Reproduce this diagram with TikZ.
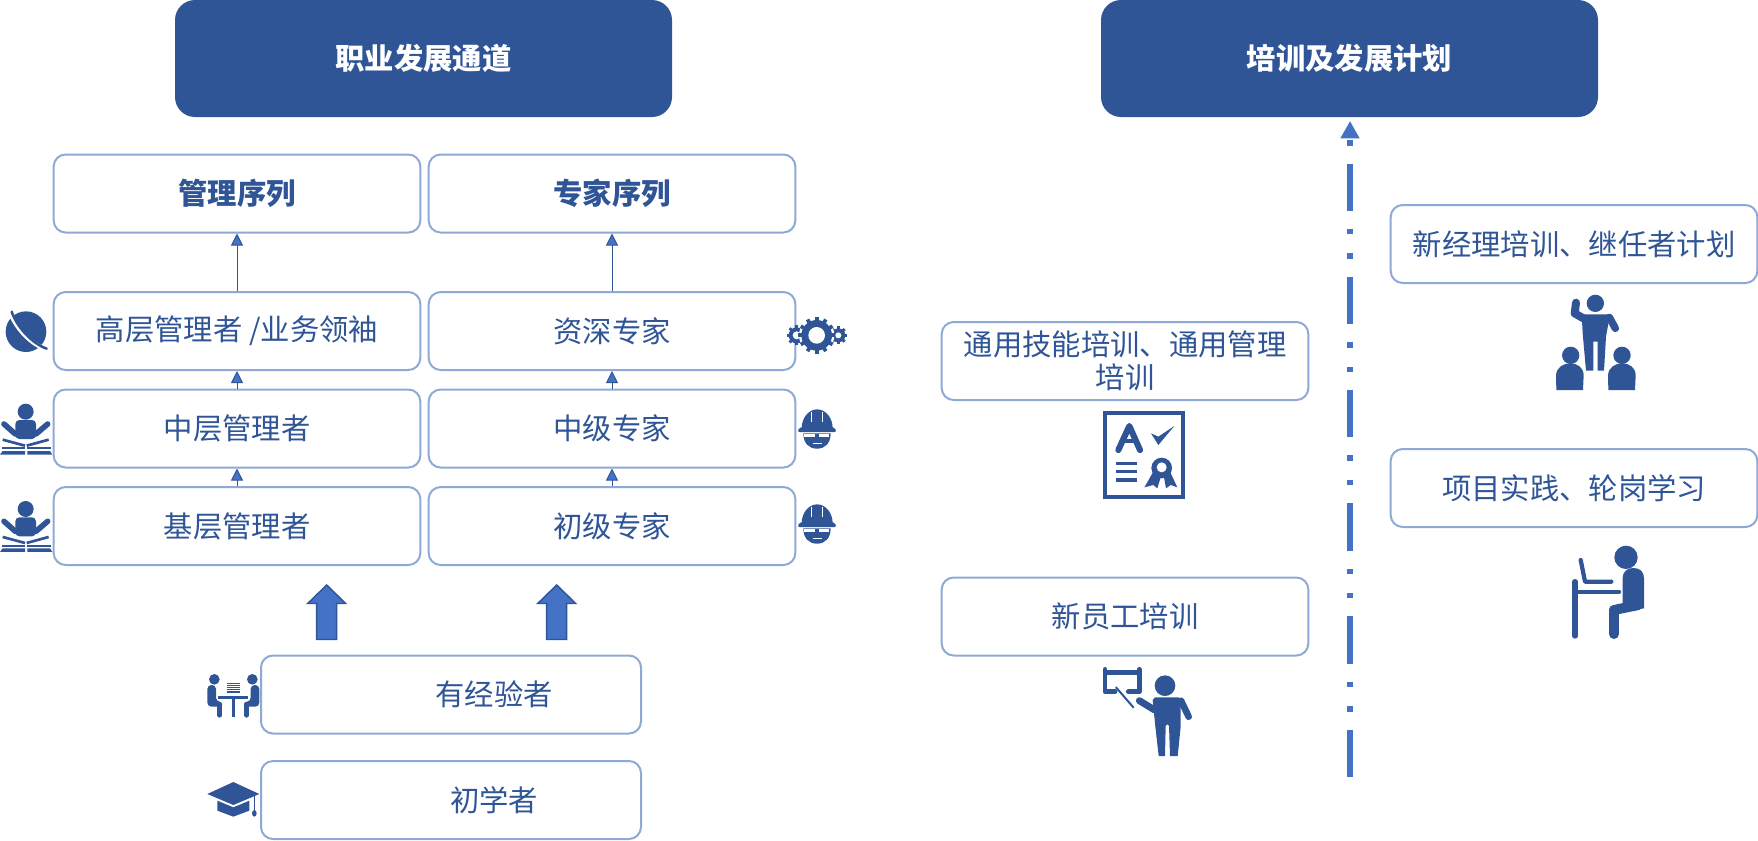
\documentclass[tikz,border=0pt]{standalone}
\usepackage{fontspec}
\setmainfont{Noto Sans CJK SC}
\usetikzlibrary{arrows.meta}
\definecolor{navy}{HTML}{2F5597}
\definecolor{midblue}{HTML}{4472C4}
\definecolor{edgeblue}{HTML}{8FA9D6}
\tikzset{
  card/.style={draw=edgeblue,line width=1.5pt,rounded corners=9pt,fill=white,inner sep=0pt,
    minimum width=275pt,minimum height=58.5pt,text=navy,align=center,
    font=\fontsize{22}{25}\selectfont},
  widecard/.style={card,minimum width=285pt},
  titlecard/.style={fill=navy,rounded corners=15pt,inner sep=0pt,minimum width=372.75pt,
    minimum height=87.75pt,text=white,font=\fontsize{22}{25}\selectfont\bfseries},
  stepup/.style={draw=navy,line width=.75pt,-{Triangle[length=9pt,width=9pt,fill=midblue]}},
  bigup/.style={fill=midblue,draw=navy,line width=1.1pt},
  icon/.style={scale=1/3},
  stroke/.style={draw=navy,line cap=round,line join=round},
  medit/.pic={
    \fill[navy] (77,395) circle[radius=24];
    \fill[navy,rounded corners=3pt] (46,477)--(46,420)--(108,420)--(108,477)--cycle;
    \draw[stroke,line width=4.2pt] (12,432)--(46,462);
    \draw[stroke,line width=4.2pt] (143,432)--(108,462);
    \draw[navy,line width=2pt] (8,479)--(75,497);
    \draw[navy,line width=2pt] (146,479)--(80,497);
    \draw[navy,line width=1.4pt] (5,505)--(75,505);
    \draw[navy,line width=1.4pt] (82,505)--(153,505);
    \fill[navy] (8,513)--(75,513)--(75,524)--(0,524)--cycle;
    \fill[navy] (82,513)--(150,513)--(157,524)--(82,524)--cycle;
  },
  helmet/.pic={
    \fill[navy] (1145,445) arc[start angle=180,end angle=360,x radius=46.5,y radius=57] --cycle;
    \draw[white,line width=.7pt] (1174,395)--(1174,425);
    \draw[white,line width=.7pt] (1208,395)--(1208,425);
    \fill[navy,rounded corners=2pt] (1131,456)--(1140,441)--(1242,441)--(1251,456)--cycle;
    \fill[navy] (1150,460)--(1232,460) .. controls (1232,490) and (1215,506) .. (1191,506) .. controls (1167,506) and (1150,490) .. (1150,460)--cycle;
    \fill[white] (1153,462) rectangle (1184,470);
    \fill[white] (1197,462) rectangle (1228,470);
    \draw[white,line width=.6pt] (1178,490)--(1205,490);
  },
}
\begin{document}
\begin{tikzpicture}[x=.75pt,y=-.75pt]
\useasboundingbox (0,0) rectangle (1758,840);
% headers
\node[titlecard] (careerhead) at (423.5,58.5) {职业发展通道};
\node[titlecard] (trainhead) at (1349.5,58.5) {培训及发展计划};
% career columns
\node[card,font=\fontsize{22}{25}\selectfont\bfseries] (mgmt) at (237,193.5) {管理序列};
\node[card,font=\fontsize{22}{25}\selectfont\bfseries] (expert) at (612,193.5) {专家序列};
\node[card] (m3) at (237,331) {高层管理者 /业务领袖};
\node[card] (e3) at (612,331) {资深专家};
\node[card] (m2) at (237,428.5) {中层管理者};
\node[card] (e2) at (612,428.5) {中级专家};
\node[card] (m1) at (237,526) {基层管理者};
\node[card] (e1) at (612,526) {初级专家};
\node[widecard] (exp) at (451,694.5) {\hspace*{64.5pt}有经验者};
\node[widecard] (novice) at (451,800) {\hspace*{64.5pt}初学者};
\draw[stepup] (m3.north) -- (mgmt.south);
\draw[stepup] (e3.north) -- (expert.south);
\draw[stepup] (m2.north) -- (m3.south);
\draw[stepup] (e2.north) -- (e3.south);
\draw[stepup] (m1.north) -- (m2.south);
\draw[stepup] (e1.north) -- (e2.south);
% block arrows
\draw[bigup] (326.7,585)--(345.7,603.5)--(336.7,603.5)--(336.7,639.5)--(316.7,639.5)--(316.7,603.5)--(307.7,603.5)--cycle;
\draw[bigup] (556.7,585)--(575.7,603.5)--(566.7,603.5)--(566.7,639.5)--(546.7,639.5)--(546.7,603.5)--(537.7,603.5)--cycle;
% training boxes
\node[card] (general) at (1125,361) {通用技能培训、通用管理\\培训};
\node[card] (newhire) at (1125,616.5) {新员工培训};
\node[card] (manager) at (1574,244) {新经理培训、继任者计划};
\node[card] (project) at (1574,488) {项目实践、轮岗学习};
% timeline
\coordinate (tlstart) at (1350,777);
\coordinate (tlend) at (1350,121);
\draw[midblue,line width=4.5pt,dash pattern=on 35.5pt off 13.5pt on 4.1pt off 14.2pt on 4.1pt off 13.5pt,
  -{Triangle[length=13pt,width=13.5pt]}] (tlstart) -- (tlend);
% planet
\begin{scope}[shift={(0,280)},icon]
  \fill[navy] (78,155) circle[radius=61];
  \draw[white,line width=3.2pt] (28,92) .. controls (45,140) and (90,195) .. (146,210);
  \draw[navy,line width=1.9pt,line cap=round] (35,95) .. controls (50,140) and (95,190) .. (140,206);
\end{scope}
% meditating people
\pic[icon] at (0,280) {medit};
\pic[icon] at (0,377.3) {medit};
% helmets
\pic[icon] at (420,280) {helmet};
\pic[icon] at (420,375) {helmet};
% gears
\begin{scope}[shift={(420,280)},icon]
  \foreach \cx/\cy/\r in {1130/166/24,1255/166/21}{
    \fill[navy] (\cx,\cy) circle[radius=\r];
    \foreach \a in {0,45,...,315}
      \draw[navy,line width=2.2pt] (\cx,\cy) ++(\a:\r-2) -- ++(\a:8);
    \fill[white] (\cx,\cy) circle[radius=\r-12];
  }
  \fill[white] (1190,166) circle[radius=53];
  \fill[navy] (1190,166) circle[radius=46];
  \foreach \a in {0,30,...,330}
    \draw[navy,line width=2.8pt] (1190,166) ++(\a:42) -- ++(\a:13);
  \fill[white] (1190,166) circle[radius=25];
\end{scope}
% meeting
\begin{scope}[shift={(190,570)},icon]
  \fill[navy] (73,328) circle[radius=16];
  \fill[navy] (187,328) circle[radius=16];
  \draw[navy,line width=2pt] (85,382)--(175,382);
  \draw[navy,line width=2pt] (130,382)--(130,442);
  \foreach \y in {339,345,351,357,363,368}
    \draw[navy,line width=.45pt] (110,\y)--(149,\y);
  \fill[navy,rounded corners=3pt] (52,410)--(52,345)--(78,345)--(78,395)--(96,395)--(96,410)--cycle;
  \draw[stroke,line width=3.4pt] (88,402)--(88,436);
  \fill[navy,rounded corners=3pt] (208,410)--(208,345)--(182,345)--(182,395)--(164,395)--(164,410)--cycle;
  \draw[stroke,line width=3.4pt] (170,402)--(170,436);
\end{scope}
% graduation cap
\begin{scope}[shift={(190,570)},icon]
  \fill[navy] (52,672)--(130,636)--(208,672)--(130,705)--cycle;
  \fill[navy] (82,692)--(130,712)--(178,692)--(178,722)--(130,740)--(82,722)--cycle;
  \draw[navy,line width=.7pt] (193,678)--(193,722);
  \fill[navy] (193,730) ellipse[x radius=7,y radius=10];
\end{scope}
% certificate
\begin{scope}[shift={(1040,390)},icon]
  \draw[navy,line width=2.4pt] (195,69) rectangle (429,321);
  \draw[stroke,line width=4.6pt] (235,180)--(268,108)--(300,180);
  \draw[navy,line width=3pt] (250,152)--(285,152);
  \fill[navy] (333,130)--(355,140)--(403,108)--(355,165)--cycle;
  \foreach \y in {220,245,270}
    \draw[navy,line width=2.6pt] (228,\y)--(292,\y);
  \fill[navy] (340,245)--(313,292)--(340,285)--(352,295)--(362,262)--(372,262)--(378,295)--(392,285)--(412,292)--(390,245)--cycle;
  \fill[navy] (365,234) circle[radius=31];
  \fill[white] (365,232) circle[radius=15];
\end{scope}
% teacher
\begin{scope}[shift={(1080,650)},icon]
  \draw[navy,line width=3.6pt,line cap=round,line join=round] (105,125)--(75,125)--(75,58);
  \draw[navy,line width=3.6pt,line cap=round,line join=round] (145,125)--(178,125)--(178,58);
  \draw[navy,line width=3.6pt] (75,68)--(178,68);
  \draw[stroke,line width=1.5pt] (108,112)--(160,172);
  \fill[navy] (255,107) circle[radius=31];
  \fill[navy] (225,142)--(295,142)--(302,150)--(302,230)--(293,318)--(270,318)--(267,228)
    arc[start angle=0,end angle=-180,radius=5]--(255,318)--(236,318)--(226,230)--(218,150)--cycle;
  \draw[stroke,line width=5.2pt] (178,152)--(224,180);
  \draw[stroke,line width=5pt] (303,152)--(326,200);
\end{scope}
% presenter
\begin{scope}[shift={(1530,280)},icon]
  \fill[navy] (196,70) circle[radius=26];
  \fill[navy] (155,103)--(240,103)--(228,170)--(222,272)--(203,272)--(203,185)--(190,185)--(190,272)--(168,272)--(158,160)--cycle;
  \draw[stroke,line width=6pt] (138,68)--(134,100)--(160,115);
  \draw[stroke,line width=5.6pt] (238,112)--(256,145);
  \fill[navy] (122,226) circle[radius=26];
  \fill[navy] (276,226) circle[radius=26];
  \fill[navy] (79,330)--(78,285) .. controls (80,262) and (100,250) .. (120,250) .. controls (142,250) and (160,262) .. (161,285)--(159,330)--cycle;
  \fill[navy] (235,330)--(234,285) .. controls (236,262) and (256,250) .. (276,250) .. controls (298,250) and (316,262) .. (317,285)--(315,330)--cycle;
\end{scope}
% seated person
\begin{scope}[shift={(1550,530)},icon]
  \fill[navy] (228,82) circle[radius=35];
  \fill[navy] (218,245)--(218,145) .. controls (218,122) and (235,114) .. (250,114) .. controls (270,114) and (282,125) .. (282,145)--(282,235)--cycle;
  \draw[stroke,line width=7.5pt] (192,240)--(265,225);
  \draw[stroke,line width=7.5pt] (192,240)--(192,312);
  \draw[stroke,line width=3.2pt] (92,90)--(105,155)--(184,155);
  \draw[stroke,line width=4pt] (75,155)--(75,318);
  \draw[stroke,line width=3.2pt] (78,185)--(207,185);
\end{scope}
\end{tikzpicture}
\end{document}
